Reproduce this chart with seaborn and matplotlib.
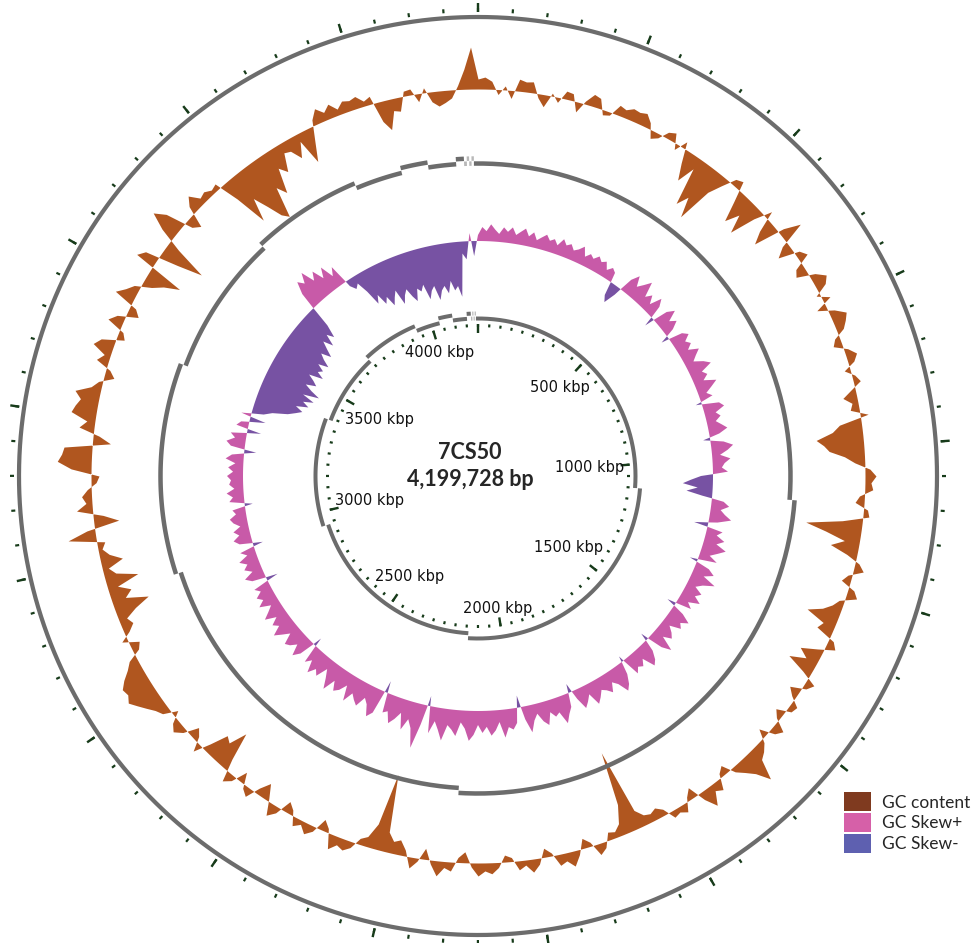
import numpy as np
import matplotlib
matplotlib.use("Agg")
import matplotlib.pyplot as plt
from matplotlib.patches import Patch
from matplotlib.transforms import offset_copy
import seaborn as sns

genome_name = "7CS50"
genome_bp = 4199728

# GC content deviation, one window per degree starting at 0 bp
gc_content = [
    10, 12, 8, -5, 4, -8, 12, 10, 11, -4, -12, 3, -5, 8, 7, -10, 3, 12, 10, -5, -3, 10, 8, 12, 11, 13, 6, -8, -4, 6,
    9, -6, 7, -14, -30, -12, -50, -38, -58, -22, -8, 6, 9, -12, -32, -18, -36, -10, 8, -14, -26, 6, 22, -6, -16, 5, 10, -8, -12, 6,
    15, 10, -4, 8, -10, 6, 16, 12, 7, -5, -9, 4, 11, 6, -6, 3, 7, -4, -14, -6, -9, 8, -22, -30, -47, -40, -35, -20, -10, 5,
    11, 6, 8, -5, -9, 4, 6, -20, -56, -35, -15, -28, -10, 4, 10, -4, -9, 6, 11, -5, -10, -18, -32, -12, -16, 5, 10, -6, -22, -12,
    -28, -8, 9, 4, -11, -4, 7, 5, -9, -3, 11, 6, -9, 4, 10, 14, 34, 20, 12, 5, -9, -4, 11, 7, 20, 8, -11, -4, 9, 5,
    7, -6, -11, -8, -10, -18, -84, -30, -12, -6, -8, 6, 11, -4, -10, 5, 15, 8, 11, -3, -9, 6, 13, 5, 9, -4, -7, 5, 11, 8,
    13, 4, -11, -5, 9, 6, 15, 4, -11, 3, 11, -6, -15, -12, -20, -78, -25, -10, -6, 6, 11, 8, 15, -4, -11, 5, 11, 4, 9, -5,
    -11, 6, 13, -3, -16, -6, 9, 4, -11, 5, 11, -12, -40, -22, -26, -8, 9, -5, -11, 4, 11, 6, -6, 8, 12, 18, 24, 30, 26, 28,
    22, 14, 8, -6, -10, 6, -5, -12, -8, -20, -36, -14, -22, -10, -33, -12, -6, -22, -10, -4, -8, 28, 8, -25, -10, 16, 6, 10, 4, -5,
    -8, 20, 34, 30, 28, -18, -6, 15, 8, 25, 22, 18, 25, 10, 4, -10, -4, 12, 6, 20, 14, -8, -4, 15, 8, -12, -6, 20, 12, 6,
    -10, -20, -35, 20, 14, -20, -45, -12, 14, 31, 20, -8, -14, 8, 16, 6, 8, 4, 6, -20, -53, -30, -45, -60, -66, -35, -45, -20, -28, -10,
    -12, -23, -8, -34, -15, 6, 15, 8, 14, 6, 12, 10, 12, 5, 8, -20, -30, -12, -14, 5, 6, -8, 5, -10, -15, -12, -8, 4, 20, 42,
]

# GC skew, same windows (positive = Skew+, negative = Skew-)
gc_skew = [
    6, 14, 10, 17, 12, 8, 15, 11, 16, 9, 13, 17, 10, 15, 8, 12, 16, 11, 14, 9, 17, 12, 15, 10, 13, 18, 9, 14, 11, 16,
    12, 15, 8, 13, 10, -14, -20, -8, 14, 22, 12, 18, 25, 10, 16, 8, 20, 13, -10, 15, 22, 11, 17, 9, -8, 14, 19, 12, 16, 10,
    20, 14, 9, 18, 24, 12, 16, 10, 22, 15, 8, 13, -6, 17, 21, 11, 15, 9, 14, 19, 10, -7, 13, 22, 16, 8, 18, 12, 9, 15,
    -12, -22, -30, -15, -26, -10, 12, 18, 10, 15, 22, 9, -14, 16, 11, 20, 13, 24, 17, 10, 19, -8, 14, 21, 12, 26, 15, 9, 18, 13,
    21, 10, 16, -9, 12, 22, 15, 19, 8, 14, 18, 10, 25, 16, -8, 12, 20, 24, 11, 17, 14, 19, -6, 13, 22, 27, 16, 11, 20, 15,
    12, 18, 23, 10, 16, 21, 9, -9, 14, 20, 28, 15, 18, 12, 24, 19, 10, 16, 27, 13, -12, 15, 21, 18, 28, 12, 20, 25, 16, 22,
    14, 24, 30, 18, 12, 26, 20, 16, 32, 22, 14, 27, -10, 20, 45, 26, 18, 30, 14, 22, 28, 17, 20, -12, 24, 30, 19, 14, 25, 21,
    16, 27, 12, 20, 24, 15, 28, 18, 10, 22, 17, 25, 13, 19, -9, 16, 23, 12, 18, 21, 10, 17, 24, 14, 19, 11, 22, 15, 9, 20,
    13, 18, 11, 16, -12, 14, 20, 10, 17, 12, 19, 9, 15, -10, 13, 18, 11, 16, 8, 14, 17, 10, 13, -8, 15, 11, 17, 9, 14, 12,
    16, 10, 15, 8, 18, 12, -12, 14, 19, 11, 16, -14, 12, 8, -16, 10, -12, -20, -35, -42, -48, -40, -52, -45, -55, -42, -58, -48, -40, -50,
    -45, -38, -52, -44, -48, -40, -50, -42, -36, -46, -38, -30, -40, -28, -35, -22, 18, 30, 24, 34, 20, 28, 16, 26, 12, 20, -6, -12, -8, -20,
    -36, -28, -40, -34, -45, -38, -32, -48, -40, -35, -44, -50, -38, -42, -36, -52, -44, -40, -55, -46, -42, -50, -38, -48, -44, -55, -12, -18, 8, -15,
]

# contig boundaries (kbp)
contig_breaks_kbp = [1101, 2141, 2940, 3391, 3696, 3933, 4035, 4093, 4153,
                     4170, 4176, 4181, 4186, 4191]
ruler_labels_kbp = [500, 1000, 1500, 2000, 2500, 3000, 3500, 4000]

legend_labels = ["GC content", "GC Skew+", "GC Skew-"]
legend_colors = ["#7f3a1f", "#d660a8", "#5e60b0"]

sns.set_style("white")

genome_kbp = genome_bp / 1000
def ang(kbp):
    return np.asarray(kbp) / genome_kbp * 2 * np.pi

fig = plt.figure(figsize=(9.75, 9.43), dpi=100)
R = 476
cx, cy = 478, 476
ax = fig.add_axes([(cx - R) / 975, (943 - cy - R) / 943, 2 * R / 975, 2 * R / 943],
                  projection="polar")
ax.set_theta_zero_location("N")
ax.set_theta_direction(-1)
ax.set_ylim(0, R)
ax.set_axis_off()

ring_col = "#6c6c6c"
tick_col = "#173b1a"
px = 0.72  # points per pixel

# outer backbone + ticks
full = np.linspace(0, 2 * np.pi, 1500)
sns.lineplot(x=full, y=np.full_like(full, 459), ax=ax, color=ring_col, lw=4.2 * px,
             sort=False, estimator=None)
minor = np.arange(0, genome_kbp, 50)
ax.vlines(ang(minor), 464, 468, color=tick_col, lw=2.2 * px)
major = np.arange(0, genome_kbp, 250)
ax.vlines(ang(major), 464, 473, color=tick_col, lw=2.4 * px)

# GC content
win = np.linspace(0, genome_kbp, len(gc_content), endpoint=False)
th = np.append(ang(win), 2 * np.pi)
gc = np.append(gc_content, gc_content[0])
base = 387
ax.fill_between(th, base, base + gc, color="#b0561f", lw=0, interpolate=True)

# GC skew
win2 = np.linspace(0, genome_kbp, len(gc_skew), endpoint=False)
th2 = np.append(ang(win2), 2 * np.pi)
sk = np.append(gc_skew, gc_skew[0])
base2 = 235
ax.fill_between(th2, base2, base2 + sk, where=sk >= 0, color="#c85aa8", lw=0, interpolate=True)
ax.fill_between(th2, base2, base2 + sk, where=sk <= 0, color="#7752a3", lw=0, interpolate=True)

# contig rings
def contig_ring(r, off, lw):
    b = contig_breaks_kbp
    for k in range(len(b)):
        s = b[k]
        e = b[k + 1] if k + 1 < len(b) else b[0] + genome_kbp
        t = np.linspace(ang(s), ang(e), max(int((e - s) / 5), 3))
        rr = r + off if k % 2 == 0 else r - off
        col = "#b8b8b8" if e - s < 7 else ring_col
        ax.plot(t, np.full_like(t, rr), color=col, lw=lw * px, solid_capstyle="butt")

contig_ring(315, 2.5, 4.5)
contig_ring(160, 2.5, 4)

# inner ruler
rmin = np.arange(0, genome_kbp, 50)
ax.vlines(ang(rmin), 149, 152, color=tick_col, lw=2.2 * px)
rmaj = np.arange(0, genome_kbp, 500)
ax.vlines(ang(rmaj), 143, 152, color=tick_col, lw=2.4 * px)
for kb in ruler_labels_kbp:
    a = ang(kb)
    lab = f"{kb} kbp"
    hw, hh = len(lab) * 4.2, 7
    rr = 146 - (hw * abs(np.sin(a)) + hh * abs(np.cos(a)))
    ax.text(a, rr, lab, ha="center", va="center", fontsize=10.5, color="#111111")

# centre title
tr = offset_copy(ax.transData, fig=fig, x=-8, y=23, units="dots")
ax.text(0, 0, genome_name, transform=tr, ha="center", va="center",
        fontsize=15.5, fontweight="bold", family="Lato")
tr2 = offset_copy(ax.transData, fig=fig, x=-8, y=-4, units="dots")
ax.text(0, 0, f"{genome_bp:,} bp", transform=tr2, ha="center", va="center",
        fontsize=15.5, fontweight="bold", family="Lato")

handles = [Patch(facecolor=c, edgecolor="none") for c in legend_colors]
fig.legend(handles, legend_labels, loc="upper left",
           bbox_to_anchor=(844 / 975, 1 - 792 / 943), frameon=False,
           handlelength=1.55, handleheight=1.35, handletextpad=0.65,
           labelspacing=0.08, borderpad=0, borderaxespad=0,
           prop={"family": "Lato", "size": 12.5})

fig.savefig("out.png", dpi=100)
